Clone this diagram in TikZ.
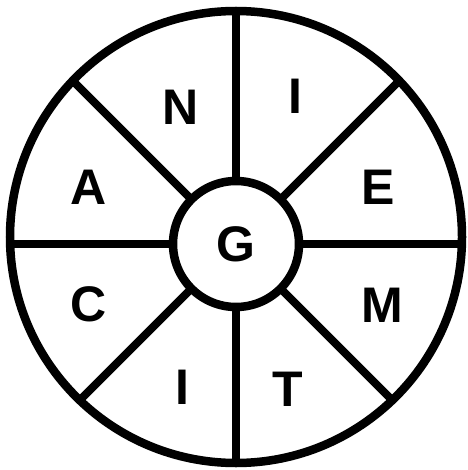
\documentclass[tikz,border=0pt]{standalone}
\usepackage{fontspec}
\setmainfont{Liberation Sans}
\begin{document}
\begin{tikzpicture}[x=1pt,y=-1pt,
  ring/.style={line width=8.5pt},
  spoke/.style={line width=8pt},
  letter/.style={font=\bfseries\fontsize{50}{50}\selectfont, inner sep=0pt}]
\useasboundingbox[fill=white] (0,0) rectangle (467,470);
\coordinate (o) at (236,237);
\coordinate (c) at (236,244);
\begin{scope}
  \clip (o) circle (226pt);
  \foreach \a in {0,45,...,315} \draw[spoke] (c) -- ++(\a:300pt);
\end{scope}
\draw[ring] (o) circle (226pt);
\node[circle, draw, ring, fill=white, minimum size=126pt, letter] (g) at (c) {G};
\node[letter] (n)  at (181,107) {N};
\node[letter] (i1) at (295,96)  {I};
\node[letter] (e)  at (378,187) {E};
\node[letter] (m)  at (382,305) {M};
\node[letter] (t)  at (288,389) {T};
\node[letter] (i2) at (182,387) {I};
\node[letter] (cc) at (89,304)  {C};
\node[letter] (a)  at (89,187)  {A};
\end{tikzpicture}
\end{document}
